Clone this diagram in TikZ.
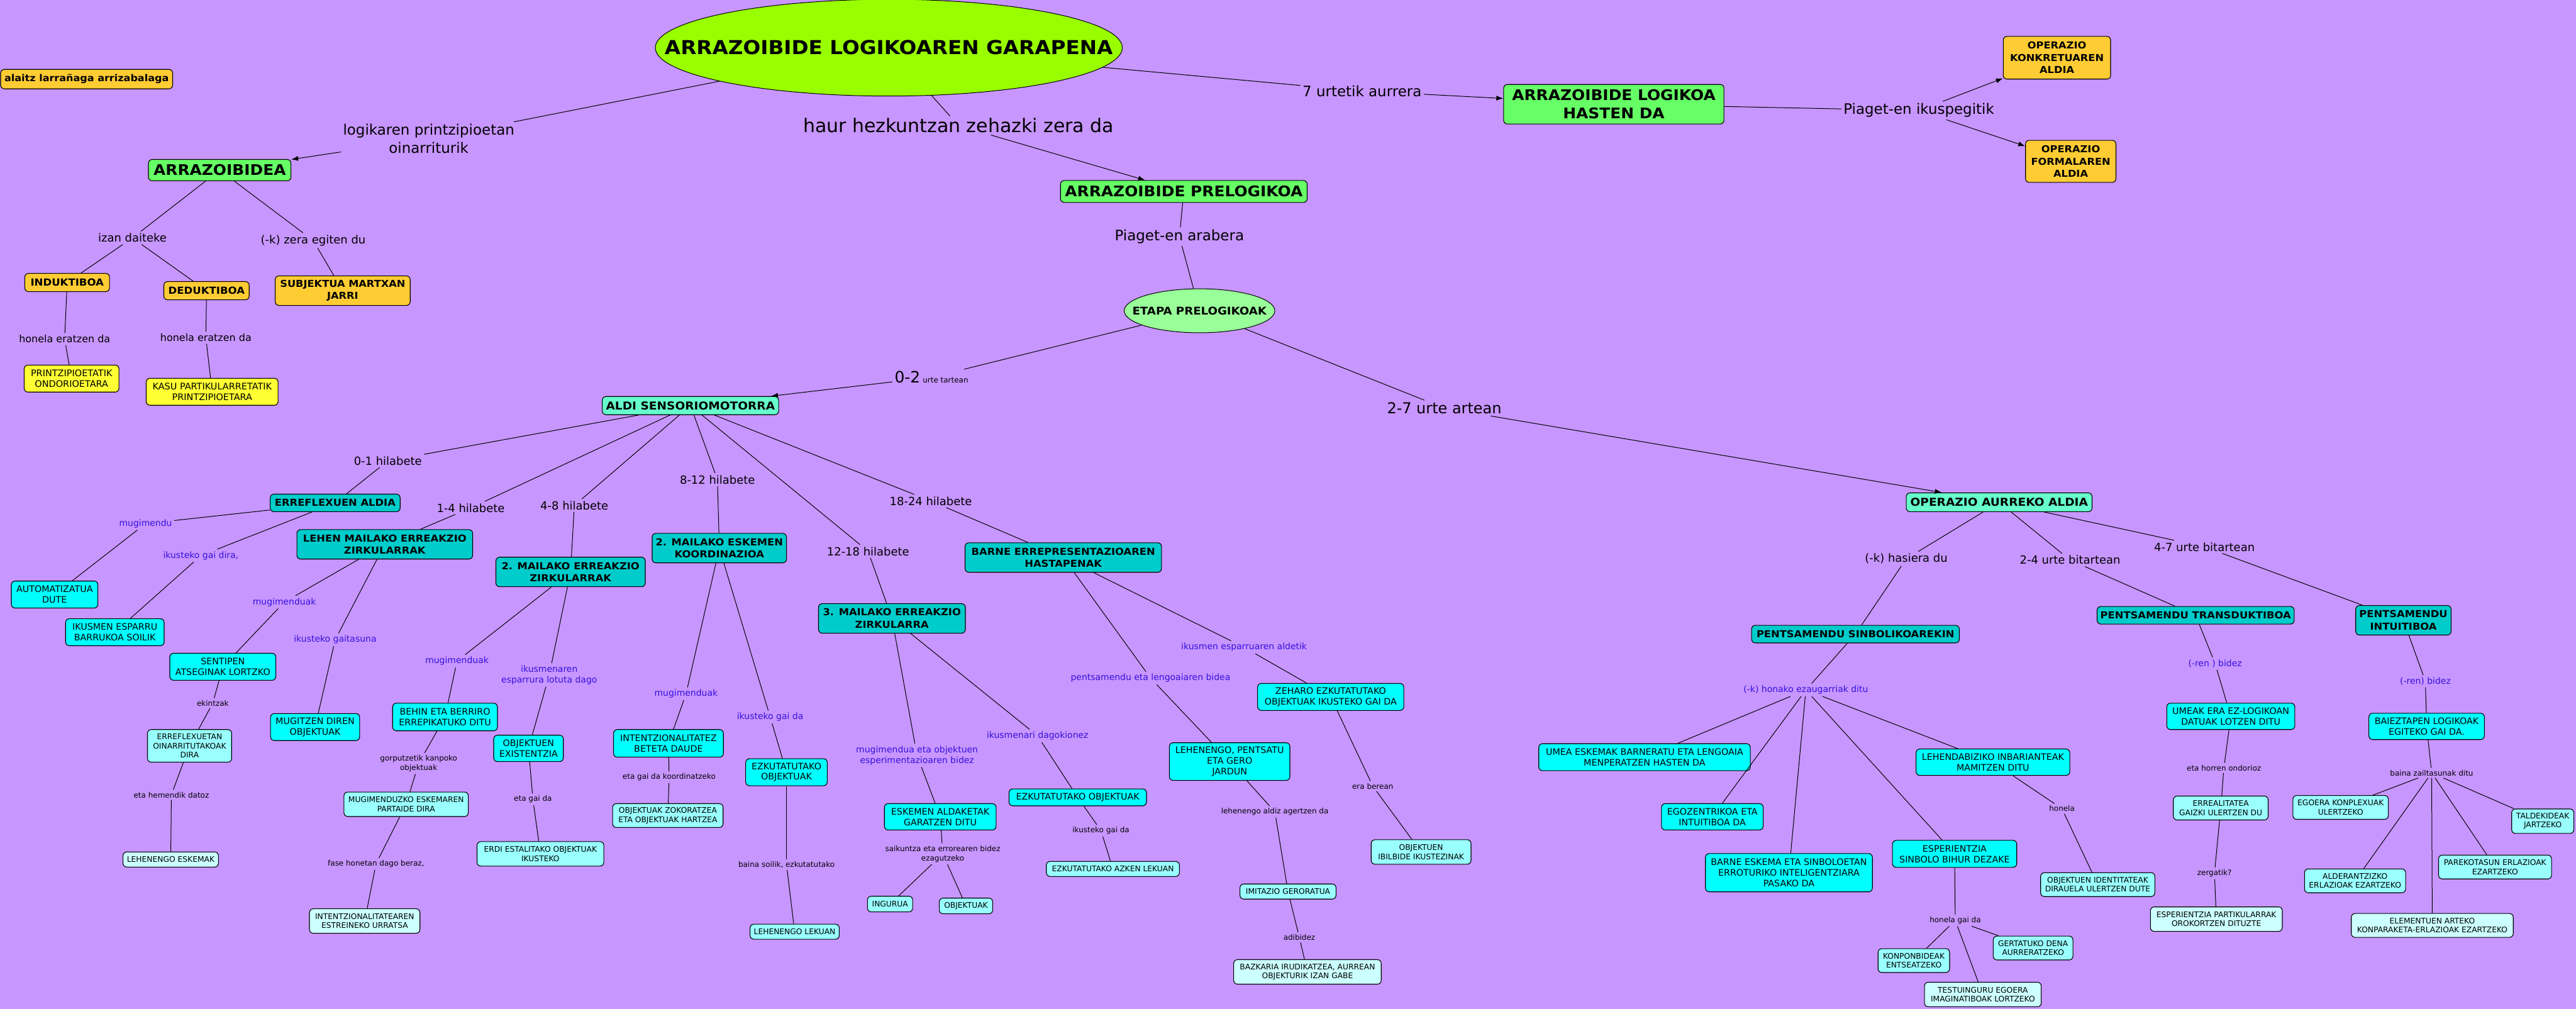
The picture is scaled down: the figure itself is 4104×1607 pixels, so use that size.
\documentclass[tikz,border=0pt]{standalone}
\usepackage{fontspec}
\setmainfont{DejaVu Sans}[BoldFeatures={FakeStretch=1.07}]
\usepackage{tikz}
\usetikzlibrary{
  % ellipse shapes for the two big concepts
  shapes.geometric,%
  arrows.meta,%
  positioning
}
\definecolor{bgpurple}{HTML}{C896FF}
\definecolor{ctitle}{HTML}{99FF00}
\definecolor{cgreen}{HTML}{66FF66}
\definecolor{cetapa}{HTML}{99FF99}
\definecolor{corange}{HTML}{FFCC33}
\definecolor{cyellow}{HTML}{FFFF33}
\definecolor{caqua}{HTML}{66FFCC}
\definecolor{cteal}{HTML}{00CCCC}
\definecolor{ccyan}{HTML}{00FFFF}
\definecolor{clight}{HTML}{99FFFF}
\definecolor{cpale}{HTML}{CCFFFF}
\definecolor{cblue}{HTML}{3311DD}
\newcommand{\fsz}[2]{\fontsize{#1}{#2}\selectfont}
\tikzset{>={Latex[length=11pt,width=8pt]}}
\tikzset{
  concept/.style={draw=black, line width=1.1pt, rounded corners=6pt, inner sep=1pt, align=center},
  dims/.style 2 args={minimum width=#1, minimum height=#2},
  greenbox/.style={concept, fill=cgreen, font=\fsz{23.3}{29}\bfseries},
  orangebox/.style={concept, fill=corange, font=\fsz{15.2}{19.5}\bfseries},
  yellowbox/.style={concept, fill=cyellow, font=\fsz{14.5}{16.8}},
  aquabox/.style={concept, fill=caqua, font=\fsz{17.4}{21}\bfseries},
  tealbox/.style={concept, fill=cteal, font=\fsz{15.3}{19.6}\bfseries},
  cyanbox/.style={concept, fill=ccyan, font=\fsz{14.3}{17}},
  lightbox/.style={concept, fill=clight, font=\fsz{12.3}{14.5}},
  palebox/.style={concept, fill=cpale, font=\fsz{12.3}{14.5}},
  oval/.style={ellipse, draw=black, line width=1pt, inner sep=0pt},
  link/.style={inner sep=3pt, align=center},
  linkxl/.style={link, font=\fsz{30}{34}},
  linkl/.style={link, font=\fsz{23}{29}},
  linkm/.style={link, font=\fsz{18}{22}},
  linkh/.style={link, font=\fsz{16}{19}},
  links/.style={link, font=\fsz{12}{15}},
  linkblue/.style={link, text=cblue, font=\fsz{14}{17}},
}

\begin{document}
\begin{tikzpicture}[x=1pt, y=-1pt, line width=1pt]
  \useasboundingbox (0,0) rectangle (4104,1607);
  \fill[bgpurple] (0,0) rectangle (4104,1607);

  % --- top of the map
  \node[orangebox, dims={274}{31}, font=\fsz{15}{18}\bfseries] (egilea) at (138,126) {alaitz larrañaga arrizabalaga};
  \node[oval, fill=ctitle, minimum width=744, minimum height=154, font=\fsz{30.6}{36}\bfseries] (garapena) at (1416,76) {\makebox[0pt]{ARRAZOIBIDE LOGIKOAREN GARAPENA}};
  \node[linkl] (logikaren) at (683,221) {logikaren printzipioetan\\oinarriturik};
  \node[greenbox, dims={227}{34}] (arrazoibidea) at (350,271) {ARRAZOIBIDEA};
  \node[linkxl] (haur) at (1527,200) {haur hezkuntzan zehazki zera da};
  \node[greenbox, dims={393}{35}] (prelogikoa) at (1886,305) {ARRAZOIBIDE PRELOGIKOA};
  \node[linkl] (arabera) at (1879,377) {Piaget-en arabera};
  \node[oval, fill=cetapa, minimum width=240, minimum height=70, font=\fsz{17}{20}\bfseries] (etapa) at (1911,495) {\makebox[0pt]{ETAPA PRELOGIKOAK}};
  \node[linkl] (urtetik) at (2170,145) {7 urtetik aurrera};
  \node[greenbox, dims={351}{63}] (logikoa) at (2571,166) {ARRAZOIBIDE LOGIKOA\\HASTEN DA};
  \node[linkl] (ikuspegitik) at (3057,176) {Piaget-en ikuspegitik};
  \node[orangebox, dims={171}{68}] (konkretu) at (3277,92) {OPERAZIO\\KONKRETUAREN\\ALDIA};
  \node[orangebox, dims={144}{67}] (formal) at (3299,257) {OPERAZIO\\FORMALAREN\\ALDIA};

  % --- arrazoibidea
  \node[linkm] (izan) at (211,379) {izan daiteke};
  \node[linkm] (zera) at (499,383) {(-k) zera egiten du};
  \node[orangebox, dims={135}{29}, font=\fsz{15.5}{19}\bfseries] (induktiboa) at (107,450) {INDUKTIBOA};
  \node[orangebox, dims={136}{29}, font=\fsz{15.5}{19}\bfseries] (deduktiboa) at (329,463) {DEDUKTIBOA};
  \node[orangebox, dims={215}{47}] (subjektua) at (546,463) {SUBJEKTUA MARTXAN\\JARRI};
  \node[linkh] (honelaA) at (103,540) {honela eratzen da};
  \node[linkh] (honelaB) at (328,538) {honela eratzen da};
  \node[yellowbox, dims={151}{43}] (printzipioetatik) at (114,603) {PRINTZIPIOETATIK\\ONDORIOETARA};
  \node[yellowbox, dims={210}{43}] (kasu) at (338,624) {KASU PARTIKULARRETATIK\\PRINTZIPIOETARA};

  % --- aldi sensoriomotorra
  \node[link] (urtetartean) at (1484,601) {{\fsz{25}{30}0-2}\hspace{4pt}{\fsz{12}{15}urte tartean}};
  \node[aquabox, dims={281}{29}] (aldi) at (1100,646) {ALDI SENSORIOMOTORRA};
  \node[linkm] (hila) at (618,734) {0-1 hilabete};
  \node[linkm] (hilb) at (750,809) {1-4 hilabete};
  \node[linkm] (hilc) at (915,805) {4-8 hilabete};
  \node[linkm] (hild) at (1143,764) {8-12 hilabete};
  \node[linkm] (hile) at (1383,878) {12-18 hilabete};
  \node[linkm] (hilf) at (1483,798) {18-24 hilabete};
  \node[tealbox, dims={207}{28}] (erreflexuen) at (534,801) {ERREFLEXUEN ALDIA};
  \node[tealbox, dims={280}{47}] (lehenmailako) at (613,867) {LEHEN MAILAKO ERREAKZIO\\ZIRKULARRAK};
  \node[tealbox, dims={238}{47}] (bigarrena) at (909,911) {2. MAILAKO ERREAKZIO\\ZIRKULARRAK};
  \node[tealbox, dims={214}{47}] (koordinazioa) at (1146,873) {2. MAILAKO ESKEMEN\\KOORDINAZIOA};
  \node[tealbox, dims={234}{47}] (hirugarrena) at (1421,985) {3. MAILAKO ERREAKZIO\\ZIRKULARRA};
  \node[tealbox, dims={313}{47}] (barne) at (1694,888) {BARNE ERREPRESENTAZIOAREN\\HASTAPENAK};

  \node[linkblue] (mugimendu) at (232,834) {mugimendu};
  \node[cyanbox, dims={138}{43}] (automatizatua) at (87,947) {AUTOMATIZATUA\\DUTE};
  \node[linkblue] (gaidira) at (320,885) {ikusteko gai dira,};
  \node[cyanbox, dims={157}{43}] (ikusmen) at (183,1007) {IKUSMEN ESPARRU\\BARRUKOA SOILIK};

  \node[linkblue] (mugimenduakA) at (453,959) {mugimenduak};
  \node[cyanbox, dims={169}{43}] (sentipen) at (355,1062) {SENTIPEN\\ATSEGINAK LORTZKO};
  \node[links] (ekintzak) at (339,1120) {ekintzak};
  \node[lightbox, dims={134}{52}] (erreflexuetan) at (302,1188) {ERREFLEXUETAN\\OINARRITUTAKOAK\\DIRA};
  \node[links] (hemendik) at (273,1266) {eta hemendik datoz};
  \node[palebox, dims={152}{24}] (eskemak) at (272,1369) {LEHENENGO ESKEMAK};
  \node[linkblue] (gaitasuna) at (534,1019) {ikusteko gaitasuna};
  \node[cyanbox, dims={142}{43}] (mugitzen) at (502,1158) {MUGITZEN DIREN\\OBJEKTUAK};

  \node[linkblue] (mugimenduakB) at (728,1053) {mugimenduak};
  \node[cyanbox, dims={167}{44}] (behin) at (709,1142) {BEHIN ETA BERRIRO\\ERREPIKATUKO DITU};
  \node[links] (gorputzetik) at (667,1216) {gorputzetik kanpoko\\objektuak};
  \node[lightbox, dims={198}{39}] (mugimenduzko) at (647,1281) {MUGIMENDUZKO ESKEMAREN\\PARTAIDE DIRA};
  \node[links] (fase) at (599,1376) {fase honetan dago beraz,};
  \node[palebox, dims={176}{39}] (urratsa) at (581,1467) {INTENTZIONALITATEAREN\\ESTREINEKO URRATSA};
  \node[linkblue] (ikusmenaren) at (875,1075) {ikusmenaren\\esparrura lotuta dago};
  \node[cyanbox, dims={111}{42}] (existentzia) at (842,1192) {OBJEKTUEN\\EXISTENTZIA};
  \node[links] (gaida) at (849,1273) {eta gai da};
  \node[lightbox, dims={202}{39}] (erdi) at (861,1360) {ERDI ESTALITAKO OBJEKTUAK\\IKUSTEKO};

  \node[linkblue] (mugimenduakC) at (1093,1105) {mugimenduak};
  \node[cyanbox, dims={175}{44}] (beteta) at (1065,1184) {INTENTZIONALITATEZ\\BETETA DAUDE};
  \node[links] (koordinatzeko) at (1066,1238) {eta gai da koordinatzeko};
  \node[lightbox, dims={176}{38}] (zokoratzea) at (1064,1299) {OBJEKTUAK ZOKORATZEA\\ETA OBJEKTUAK HARTZEA};
  \node[linkblue] (gaidaA) at (1227,1142) {ikusteko gai da};
  \node[cyanbox, dims={130}{43}] (ezkutatuA) at (1253,1230) {EZKUTATUTAKO\\OBJEKTUAK};
  \node[links] (soilik) at (1253,1377) {baina soilik, ezkutatutako};
  \node[lightbox, dims={142}{24}] (lehenlekuan) at (1266,1484) {LEHENENGO LEKUAN};

  \node[linkblue] (esperimentazio) at (1461,1203) {mugimendua eta objektuen\\esperimentazioaren bidez};
  \node[cyanbox, dims={178}{42}] (aldaketak) at (1498,1301) {ESKEMEN ALDAKETAK\\GARATZEN DITU};
  \node[links] (saikuntza) at (1502,1360) {saikuntza eta errorearen bidez\\ezagutzeko};
  \node[lightbox, dims={72}{25}] (ingurua) at (1418,1440) {INGURUA};
  \node[lightbox, dims={85}{25}] (objektuak) at (1539,1443) {OBJEKTUAK};
  \node[linkblue] (ikusmenari) at (1653,1172) {ikusmenari dagokionez};
  \node[cyanbox, dims={219}{27}] (ezkutatuB) at (1717,1270) {EZKUTATUTAKO OBJEKTUAK};
  \node[links] (gaidaB) at (1754,1323) {ikusteko gai da};
  \node[lightbox, dims={212}{24}] (azkenlekuan) at (1773,1384) {EZKUTATUTAKO AZKEN LEKUAN};

  \node[linkblue] (lengoaia) at (1833,1080) {pentsamendu eta lengoaiaren bidea};
  \node[linkblue] (esparruaren) at (1982,1031) {ikusmen esparruaren aldetik};
  \node[cyanbox, dims={192}{60}] (jardun) at (1959,1213) {LEHENENGO, PENTSATU\\ETA GERO\\JARDUN};
  \node[links] (aldiz) at (2031,1293) {lehenengo aldiz agertzen da};
  \node[lightbox, dims={153}{24}] (imitazio) at (2052,1420) {IMITAZIO GERORATUA};
  \node[links] (adibidez) at (2070,1493) {adibidez};
  \node[palebox, dims={235}{39}] (bazkaria) at (2083,1548) {BAZKARIA IRUDIKATZEA, AURREAN\\OBJEKTURIK IZAN GABE};
  \node[cyanbox, dims={233}{43}] (zeharo) at (2120,1110) {ZEHARO EZKUTATUTAKO\\OBJEKTUAK IKUSTEKO GAI DA};
  \node[links] (berean) at (2187,1252) {era berean};
  \node[lightbox, dims={159}{39}] (ibilbide) at (2264,1357) {OBJEKTUEN\\IBILBIDE IKUSTEZINAK};

  % --- operazio aurreko aldia
  \node[link, font=\fsz{24}{28}] (urteartean) at (2301,650) {2-7 urte artean};
  \node[aquabox, dims={296}{30}] (aurreko) at (3185,800) {OPERAZIO AURREKO ALDIA};
  \node[linkm] (hasiera) at (3037,890) {(-k) hasiera du};
  \node[linkm] (bitarteanA) at (3298,892) {2-4 urte bitartean};
  \node[linkm] (bitarteanB) at (3512,871) {4-7 urte bitartean};
  \node[tealbox, dims={331}{28}] (sinbolikoa) at (2956,1010) {PENTSAMENDU SINBOLIKOAREKIN};
  \node[tealbox, dims={314}{28}] (transduktiboa) at (3498,980) {PENTSAMENDU TRANSDUKTIBOA};
  \node[tealbox, dims={152}{47}] (intuitiboa) at (3829,988) {PENTSAMENDU\\INTUITIBOA};

  \node[linkblue] (honako) at (2877,1099) {(-k) honako ezaugarriak ditu};
  \node[cyanbox, dims={337}{43}] (umea) at (2620,1206) {UMEA ESKEMAK BARNERATU ETA LENGOAIA\\MENPERATZEN HASTEN DA};
  \node[cyanbox, dims={162}{42}] (egozentrikoa) at (2728,1301) {EGOZENTRIKOA ETA\\INTUITIBOA DA};
  \node[cyanbox, dims={266}{61}] (barneeskema) at (2850,1390) {BARNE ESKEMA ETA SINBOLOETAN\\ERROTURIKO INTELIGENTZIARA\\PASAKO DA};
  \node[cyanbox, dims={245}{42}] (inbarianteak) at (3175,1214) {LEHENDABIZIKO INBARIANTEAK\\MAMITZEN DITU};
  \node[cyanbox, dims={198}{43}] (esperientzia) at (3114,1360) {ESPERIENTZIA\\SINBOLO BIHUR DEZAKE};
  \node[links] (honelaC) at (3285,1288) {honela};
  \node[lightbox, dims={182}{38}] (identitateak) at (3342,1409) {OBJEKTUEN IDENTITATEAK\\DIRAUELA ULERTZEN DUTE};
  \node[links] (honelagai) at (3115,1466) {honela gai da};
  \node[lightbox, dims={114}{38}] (konponbideak) at (3049,1530) {KONPONBIDEAK\\ENTSEATZEKO};
  \node[lightbox, dims={127}{38}] (gertatuko) at (3239,1510) {GERTATUKO DENA\\AURRERATZEKO};
  \node[palebox, dims={186}{39}] (testuinguru) at (3159,1584) {TESTUINGURU EGOERA\\IMAGINATIBOAK LORTZEKO};

  \node[linkblue] (bidezA) at (3529,1057) {(-ren ) bidez};
  \node[cyanbox, dims={204}{42}] (umeak) at (3554,1141) {UMEAK ERA EZ-LOGIKOAN\\DATUAK LOTZEN DITU};
  \node[links] (ondorioz) at (3543,1223) {eta horren ondorioz};
  \node[lightbox, dims={151}{38}] (errealitatea) at (3538,1287) {ERREALITATEA\\GAIZKI ULERTZEN DU};
  \node[links] (zergatik) at (3528,1391) {zergatik?};
  \node[palebox, dims={210}{39}] (partikularrak) at (3531,1464) {ESPERIENTZIA PARTIKULARRAK\\OROKORTZEN DITUZTE};

  \node[linkblue] (bidezB) at (3864,1085) {(-ren) bidez};
  \node[cyanbox, dims={184}{42}] (baieztapen) at (3866,1157) {BAIEZTAPEN LOGIKOAK\\EGITEKO GAI DA.};
  \node[links] (zailtasunak) at (3874,1231) {baina zailtasunak ditu};
  \node[lightbox, dims={152}{38}] (konplexuak) at (3729,1286) {EGOERA KONPLEXUAK\\ULERTZEKO};
  \node[lightbox, dims={161}{38}] (alderantzizko) at (3752,1403) {ALDERANTZIZKO\\ERLAZIOAK EZARTZEKO};
  \node[palebox, dims={258}{38}] (elementuen) at (3875,1474) {ELEMENTUEN ARTEKO\\KONPARAKETA-ERLAZIOAK EZARTZEKO};
  \node[lightbox, dims={180}{38}] (parekotasun) at (3975,1381) {PAREKOTASUN ERLAZIOAK\\EZARTZEKO};
  \node[lightbox, dims={99}{39}] (taldekideak) at (4051,1308) {TALDEKIDEAK\\JARTZEKO};

  % --- connectors
  \draw[->] (logikaren) -- (arrazoibidea);
  \draw[->] (haur) -- (prelogikoa);
  \draw[->] (urtetik) -- (logikoa);
  \draw[->] (ikuspegitik) -- (konkretu);
  \draw[->] (ikuspegitik) -- (formal);
  \draw[->] (urtetartean) -- (aldi);
  \draw[->] (urteartean) -- (aurreko);
  \foreach \from/\to in {garapena/logikaren, garapena/haur, garapena/urtetik, logikoa/ikuspegitik,
      arrazoibidea/izan, izan/induktiboa, izan/deduktiboa, arrazoibidea/zera, zera/subjektua,
      induktiboa/honelaA, honelaA/printzipioetatik, deduktiboa/honelaB, honelaB/kasu,
      prelogikoa/arabera, arabera/etapa, etapa/urtetartean, etapa/urteartean,
      aldi/hila, hila/erreflexuen, erreflexuen/mugimendu, mugimendu/automatizatua,
      erreflexuen/gaidira, gaidira/ikusmen,
      aldi/hilb, hilb/lehenmailako, lehenmailako/mugimenduakA, mugimenduakA/sentipen,
      sentipen/ekintzak, ekintzak/erreflexuetan, erreflexuetan/hemendik, hemendik/eskemak,
      lehenmailako/gaitasuna, gaitasuna/mugitzen,
      aldi/hilc, hilc/bigarrena, bigarrena/mugimenduakB, mugimenduakB/behin, behin/gorputzetik,
      gorputzetik/mugimenduzko, mugimenduzko/fase, fase/urratsa,
      bigarrena/ikusmenaren, ikusmenaren/existentzia, existentzia/gaida, gaida/erdi,
      aldi/hild, hild/koordinazioa, koordinazioa/mugimenduakC, mugimenduakC/beteta,
      beteta/koordinatzeko, koordinatzeko/zokoratzea,
      koordinazioa/gaidaA, gaidaA/ezkutatuA, ezkutatuA/soilik, soilik/lehenlekuan,
      aldi/hile, hile/hirugarrena, hirugarrena/esperimentazio, esperimentazio/aldaketak,
      aldaketak/saikuntza, saikuntza/ingurua, saikuntza/objektuak,
      hirugarrena/ikusmenari, ikusmenari/ezkutatuB, ezkutatuB/gaidaB, gaidaB/azkenlekuan,
      aldi/hilf, hilf/barne, barne/lengoaia, lengoaia/jardun, jardun/aldiz, aldiz/imitazio,
      imitazio/adibidez, adibidez/bazkaria,
      barne/esparruaren, esparruaren/zeharo, zeharo/berean, berean/ibilbide,
      aurreko/hasiera, hasiera/sinbolikoa, sinbolikoa/honako, honako/umea, honako/egozentrikoa,
      honako/barneeskema, honako/esperientzia, honako/inbarianteak,
      inbarianteak/honelaC, honelaC/identitateak, esperientzia/honelagai,
      honelagai/konponbideak, honelagai/gertatuko, honelagai/testuinguru,
      aurreko/bitarteanA, bitarteanA/transduktiboa, transduktiboa/bidezA, bidezA/umeak,
      umeak/ondorioz, ondorioz/errealitatea, errealitatea/zergatik, zergatik/partikularrak,
      aurreko/bitarteanB, bitarteanB/intuitiboa, intuitiboa/bidezB, bidezB/baieztapen,
      baieztapen/zailtasunak, zailtasunak/konplexuak, zailtasunak/alderantzizko,
      zailtasunak/elementuen, zailtasunak/parekotasun, zailtasunak/taldekideak}
    \draw (\from) -- (\to);
\end{tikzpicture}
\end{document}
